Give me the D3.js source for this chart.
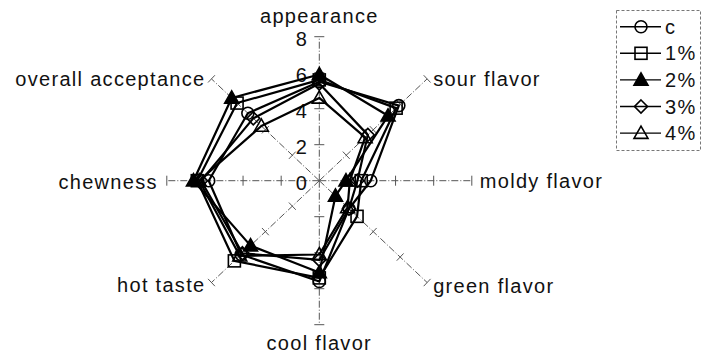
<!DOCTYPE html>
<html>
<head>
<meta charset="utf-8">
<script src="https://cdn.jsdelivr.net/npm/d3@7"></script>
<style>
  html, body { margin: 0; padding: 0; background: #fff; }
  svg { display: block; }
  text { font-family: "Liberation Sans", Arial, sans-serif; fill: #111; letter-spacing: 1.3px; }
</style>
</head>
<body>
<svg id="chart" width="702" height="354"></svg>
<script>
// Sensory attributes, clockwise from the top
const attributes = ["appearance", "sour flavor", "moldy flavor", "green flavor",
                    "cool flavor", "hot taste", "chewness", "overall acceptance"];
const seriesNames = ["c", "1%", "2%", "3%", "4%"];
const tickValues = [0, 2, 4, 6, 8];

// Scores per attribute (same order as attributes)
const valuesC  = [5.5, 5.9, 2.7, 2.2, 5.6, 5.8, 5.8, 5.3];
const values1  = [5.6, 5.7, 2.2, 2.8, 5.4, 6.3, 6.4, 6.1];
const values2  = [5.9, 5.1, 1.4, 1.2, 5.1, 5.1, 6.6, 6.5];
const values3  = [5.4, 3.6, 2.0, 2.2, 4.4, 5.7, 6.2, 4.9];
const values4  = [4.6, 3.4, 1.6, 2.1, 4.1, 5.9, 6.3, 4.3];

const seriesValues = [valuesC, values1, values2, values3, values4];
const markerTypes = ["circle", "square", "triangleFilled", "diamond", "triangle"];

const svg = d3.select("#chart");
const cx = 319.3, cy = 180.7;

// The plot is slightly wider than tall, so horizontal and vertical radii differ
const rx = d3.scaleLinear().domain([0, 8]).range([0, 152.5]);
const ry = d3.scaleLinear().domain([0, 8]).range([0, 144]);
const angle = d3.scalePoint().domain(attributes).range([0, 2 * Math.PI * 7 / 8]);

function pos(attr, v) {
  const a = angle(attr);
  return [cx + rx(v) * Math.sin(a), cy - ry(v) * Math.cos(a)];
}

// Axes with dash-dot lines and perpendicular ticks
const axisG = svg.append("g");
attributes.forEach(attr => {
  const [x1, y1] = pos(attr, 8);
  axisG.append("line")
    .attr("x1", cx).attr("y1", cy).attr("x2", x1).attr("y2", y1)
    .attr("stroke", "#555").attr("stroke-width", 1)
    .attr("stroke-dasharray", "7,2,1,2");
  const dx = x1 - cx, dy = y1 - cy, len = Math.hypot(dx, dy);
  const px = -dy / len, py = dx / len;
  tickValues.filter(t => t > 0).forEach(t => {
    const [tx, ty] = pos(attr, t);
    axisG.append("line")
      .attr("x1", tx - px * 5).attr("y1", ty - py * 5)
      .attr("x2", tx + px * 5).attr("y2", ty + py * 5)
      .attr("stroke", "#555").attr("stroke-width", 1);
  });
});

// Tick labels along the vertical axis
axisG.selectAll("text.tick")
  .data(tickValues)
  .join("text")
  .attr("class", "tick")
  .attr("x", cx - 11)
  .attr("y", d => cy - ry(d) + 9)
  .attr("text-anchor", "end")
  .attr("font-size", 20)
  .text(d => d);

// Attribute labels
const labelOffsets = {
  "appearance":         { dx: 0,   dy: -14, anchor: "middle" },
  "sour flavor":        { dx: 6,   dy: 7,   anchor: "start" },
  "moldy flavor":       { dx: 8,   dy: 7.5, anchor: "start" },
  "green flavor":       { dx: 6,   dy: 10.5,anchor: "start" },
  "cool flavor":        { dx: 0,   dy: 25,  anchor: "middle" },
  "hot taste":          { dx: -6,  dy: 9,   anchor: "end" },
  "chewness":           { dx: -9,  dy: 8.5, anchor: "end" },
  "overall acceptance": { dx: -6,  dy: 7,   anchor: "end" }
};
attributes.forEach(attr => {
  const [x, y] = pos(attr, 8);
  const o = labelOffsets[attr];
  svg.append("text")
    .attr("x", x + o.dx).attr("y", y + o.dy)
    .attr("text-anchor", o.anchor)
    .attr("font-size", 20)
    .text(attr);
});

// Marker drawing
function drawMarker(g, type, x, y, scale) {
  const s = scale || 1;
  const common = sel => sel.attr("stroke", "#000").attr("stroke-width", 1.6);
  if (type === "circle") {
    common(g.append("circle").attr("cx", x).attr("cy", y).attr("r", 6 * s).attr("fill", "none"));
  } else if (type === "square") {
    common(g.append("rect").attr("x", x - 6 * s).attr("y", y - 6 * s)
      .attr("width", 12 * s).attr("height", 12 * s).attr("fill", "none"));
  } else if (type === "diamond") {
    const r = 6.5 * s;
    common(g.append("path").attr("d", `M${x},${y - r}L${x + r},${y}L${x},${y + r}L${x - r},${y}Z`).attr("fill", "none"));
  } else {
    const h = 7 * s;
    const filled = type === "triangleFilled";
    common(g.append("path")
      .attr("d", `M${x},${y - h}L${x + h},${y + h * 0.75}L${x - h},${y + h * 0.75}Z`)
      .attr("fill", filled ? "#000" : "none"));
  }
}

// Series polygons
const line = d3.line()
  .x(d => pos(d.attr, d.v)[0])
  .y(d => pos(d.attr, d.v)[1])
  .curve(d3.curveLinearClosed);

const seriesG = svg.append("g");
seriesValues.forEach((vals, si) => {
  const pts = attributes.map((attr, i) => ({ attr, v: vals[i] }));
  seriesG.append("path")
    .attr("d", line(pts))
    .attr("fill", "none")
    .attr("stroke", "#000")
    .attr("stroke-width", 2.2)
    .attr("stroke-linejoin", "round");
  pts.forEach(p => {
    const [x, y] = pos(p.attr, p.v);
    drawMarker(seriesG, markerTypes[si], x, y);
  });
});

// Legend
const legend = svg.append("g");
legend.append("rect")
  .attr("x", 616.5).attr("y", 10.5).attr("width", 84).attr("height", 140)
  .attr("fill", "none").attr("stroke", "#777").attr("stroke-width", 1)
  .attr("stroke-dasharray", "3,2");
seriesNames.forEach((name, i) => {
  const y = 26.7 + i * 26.6;
  legend.append("line")
    .attr("x1", 620).attr("x2", 661).attr("y1", y).attr("y2", y)
    .attr("stroke", "#000").attr("stroke-width", 1.4);
  drawMarker(legend, markerTypes[i], 641, y);
  legend.append("text")
    .attr("x", 665).attr("y", y + 7)
    .attr("font-size", 20)
    .text(name);
});
</script>
</body>
</html>
